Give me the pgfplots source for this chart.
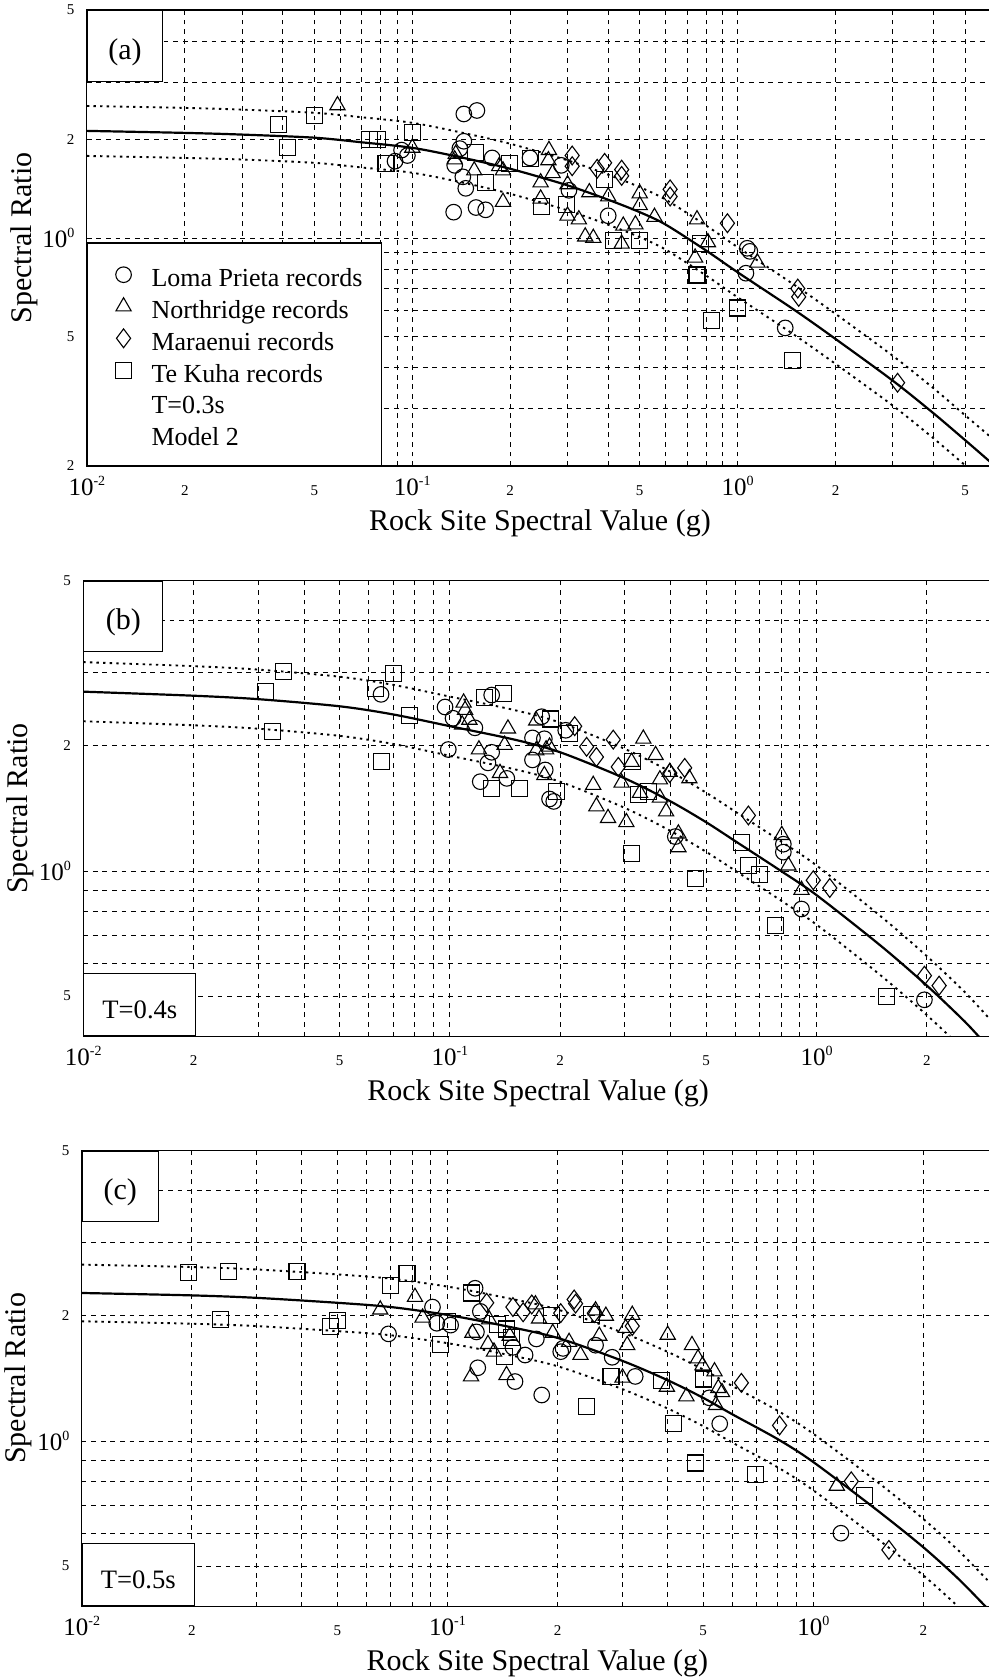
\documentclass[border=0pt]{standalone}
\usepackage{fontspec}
\setmainfont{Liberation Serif}
\usepackage{pgfplots}
\pgfplotsset{compat=1.18}

\newcommand{\pw}[1]{{\fontsize{12.5}{12.5}\selectfont 10\raisebox{5pt}{\fontsize{7}{7}\selectfont #1}}}
\newcommand{\sm}[1]{{\fontsize{7.5}{7.5}\selectfont #1}}

\pgfplotsset{
  myLP/.style={black, only marks, mark=o, mark size=3.9pt, mark options={solid, line width=0.55pt}},
  myNR/.style={black, only marks, mark=triangle, mark size=4.4pt, mark options={solid, line width=0.55pt}},
  myMA/.style={black, only marks, mark=diamond, mark size=4.7pt, mark options={solid, line width=0.55pt}},
  myTK/.style={black, only marks, mark=square, mark size=4pt, mark options={solid, line width=0.55pt}},
  myFit/.style={black, line width=1.1pt, no markers, smooth, forget plot},
  myFitD/.style={black, line width=0.95pt, dash pattern=on 1.2pt off 2.1pt, no markers, smooth, forget plot},
}
\tikzset{tagbox/.style={draw=black, line width=0.6pt, fill=white, inner sep=0pt}}

\begin{document}
\begin{tikzpicture}
\useasboundingbox (0,0) rectangle (494.5pt,-840pt);

% ---------------- panel (a) ----------------
\begin{axis}[at={(43.45pt,-5pt)}, anchor=north west, width=453.05pt, height=228pt,
  xmode=log, ymode=log, scale only axis,
  axis line style={line width=0.6pt},
  grid=both,
  major grid style={black, line width=0.45pt, dash pattern=on 2.4pt off 2.4pt},
  minor grid style={black, line width=0.45pt, dash pattern=on 2.4pt off 2.4pt},
  major tick length=0pt, minor tick length=0pt,
  xticklabel style={anchor=base, inner sep=0pt, yshift=-14.5pt},
  yticklabel style={anchor=east, inner sep=0pt, xshift=-6pt},
  xlabel={Rock Site Spectral Value (g)},
  ylabel={Spectral Ratio},
  every axis x label/.style={at={(axis description cs:0.5,0)}, anchor=base, yshift=-32pt, font=\fontsize{15}{15}\selectfont},
  every axis y label/.style={at={(axis description cs:0,0.5)}, xshift=-31.5pt, anchor=center, rotate=90, font=\fontsize{15}{15}\selectfont},
  xmin=0.01, xmax=6.09, ymin=0.2, ymax=5,
  xtick={0.01,0.02,0.05,0.1,0.2,0.5,1,2,5},
  xticklabels={\pw{-2},\sm{2},\sm{5},\pw{-1},\sm{2},\sm{5},\pw{0},\sm{2},\sm{5}},
  minor xtick={0.03,0.04,0.06,0.07,0.08,0.09,0.3,0.4,0.6,0.7,0.8,0.9,3,4},
  ytick={0.2,0.5,1,2,5}, yticklabels={\sm{2},\sm{5},\pw{0},\sm{2},\sm{5}},
  minor ytick={0.3,0.4,0.6,0.7,0.8,0.9,3,4},
  legend cell align=left,
  legend style={at={(0,0)}, anchor=south west, draw=black, line width=0.6pt, fill=white,
    font=\fontsize{13}{13}\selectfont, inner xsep=9.5pt, inner ysep=7.9pt, row sep=0pt, column sep=10pt,
    nodes={inner sep=0pt, text height=13.9pt, text depth=2pt},
    column 1/.style={nodes={minimum width=17pt}}},
]
\addplot[myFit] coordinates {(0.01,2.13) (0.02,2.10) (0.03,2.075) (0.05,2.03) (0.07,1.965) (0.1,1.89) (0.14,1.77) (0.2,1.63) (0.3,1.45) (0.4,1.31) (0.5,1.20) (0.6,1.10) (0.8,0.915) (1.0,0.785) (1.5,0.60) (2.0,0.49) (3.0,0.365) (4.0,0.29) (5.0,0.24) (6.0,0.205) (6.5,0.191)};
\addplot[myFitD] coordinates {(0.01,2.54) (0.02,2.505) (0.03,2.475) (0.05,2.42) (0.07,2.345) (0.1,2.255) (0.14,2.11) (0.2,1.945) (0.3,1.73) (0.4,1.563) (0.5,1.432) (0.6,1.312) (0.8,1.092) (1.0,0.937) (1.5,0.716) (2.0,0.585) (3.0,0.435) (4.0,0.346) (5.0,0.286) (6.0,0.245) (6.5,0.228)};
\addplot[myFitD] coordinates {(0.01,1.785) (0.02,1.76) (0.03,1.74) (0.05,1.70) (0.07,1.645) (0.1,1.585) (0.14,1.485) (0.2,1.366) (0.3,1.215) (0.4,1.098) (0.5,1.006) (0.6,0.922) (0.8,0.767) (1.0,0.658) (1.5,0.503) (2.0,0.411) (3.0,0.306) (4.0,0.243) (5.0,0.201) (6.0,0.172) (6.5,0.16)};
\addplot[myLP] coordinates {(0.144,2.40) (0.158,2.46) (0.0885,1.72) (0.0927,1.86) (0.0966,1.79) (0.144,1.98) (0.140,1.88) (0.135,1.67) (0.143,1.54) (0.146,1.42) (0.134,1.20) (0.157,1.24) (0.168,1.22) (0.176,1.76) (0.230,1.76) (0.287,1.67) (0.303,1.40) (0.40,1.17) (1.07,0.93) (1.09,0.91) (1.06,0.78) (1.40,0.53)};
\addlegendentry{Loma Prieta records}
\addplot[myNR] coordinates {(0.0589,2.55) (0.1,1.89) (0.136,1.81) (0.135,1.74) (0.155,1.61) (0.185,1.66) (0.19,1.61) (0.19,1.29) (0.263,1.86) (0.262,1.73) (0.27,1.58) (0.248,1.48) (0.248,1.32) (0.30,1.46) (0.30,1.17) (0.325,1.14) (0.34,1.01) (0.36,1.00) (0.35,1.38) (0.40,1.34) (0.445,1.09) (0.44,0.96) (0.485,1.10) (0.50,1.37) (0.50,1.26) (0.555,1.16) (0.75,1.14) (0.81,0.97) (0.74,0.87) (1.15,0.84)};
\addlegendentry{Northridge records}
\addplot[myMA] coordinates {(0.31,1.79) (0.31,1.66) (0.37,1.63) (0.39,1.70) (0.44,1.62) (0.44,1.55) (0.62,1.41) (0.62,1.34) (0.93,1.11) (1.53,0.70) (1.54,0.66) (3.1,0.36)};
\addlegendentry{Maraenui records}
\addplot[myTK] coordinates {(0.0388,2.23) (0.050,2.38) (0.0413,1.90) (0.074,2.00) (0.078,2.00) (0.1,2.10) (0.083,1.69) (0.156,1.83) (0.168,1.48) (0.199,1.69) (0.231,1.75) (0.25,1.25) (0.298,1.27) (0.39,1.51) (0.415,0.98) (0.50,0.98) (0.77,0.96) (0.75,0.77) (0.83,0.56) (1.0,0.61) (1.47,0.42)};
\addlegendentry{Te Kuha records}
\addlegendimage{empty legend}\addlegendentry{T=0.3s}
\addlegendimage{empty legend}\addlegendentry{Model 2}
\node[tagbox, anchor=north west, minimum width=37.5pt, minimum height=35.5pt, text height=16.3pt, text depth=3.3pt, font=\fontsize{15}{15}\selectfont] at (rel axis cs:0,1) {(a)};
\end{axis}

% ---------------- panel (b) ----------------
\begin{axis}[at={(41.65pt,-290.2pt)}, anchor=north west, width=454.85pt, height=228pt,
  xmode=log, ymode=log, scale only axis,
  axis line style={line width=0.6pt},
  grid=both,
  major grid style={black, line width=0.45pt, dash pattern=on 2.4pt off 2.4pt},
  minor grid style={black, line width=0.45pt, dash pattern=on 2.4pt off 2.4pt},
  major tick length=0pt, minor tick length=0pt,
  xticklabel style={anchor=base, inner sep=0pt, yshift=-14.5pt},
  yticklabel style={anchor=east, inner sep=0pt, xshift=-6pt},
  xlabel={Rock Site Spectral Value (g)},
  ylabel={Spectral Ratio},
  every axis x label/.style={at={(axis description cs:0.5,0)}, anchor=base, yshift=-32pt, font=\fontsize{15}{15}\selectfont},
  every axis y label/.style={at={(axis description cs:0,0.5)}, xshift=-31.5pt, anchor=center, rotate=90, font=\fontsize{15}{15}\selectfont},
  xmin=0.01, xmax=3.03, ymin=0.4, ymax=5,
  xtick={0.01,0.02,0.05,0.1,0.2,0.5,1,2},
  xticklabels={\pw{-2},\sm{2},\sm{5},\pw{-1},\sm{2},\sm{5},\pw{0},\sm{2}},
  minor xtick={0.03,0.04,0.06,0.07,0.08,0.09,0.3,0.4,0.6,0.7,0.8,0.9},
  ytick={0.5,1,2,5}, yticklabels={\sm{5},\pw{0},\sm{2},\sm{5}},
  minor ytick={0.6,0.7,0.8,0.9,3,4},
]
\addplot[myFit] coordinates {(0.01,2.70) (0.02,2.64) (0.03,2.59) (0.05,2.49) (0.07,2.38) (0.1,2.23) (0.15,2.07) (0.2,1.93) (0.3,1.67) (0.4,1.47) (0.5,1.31) (0.6,1.18) (0.8,1.00) (1.0,0.875) (1.5,0.66) (2.0,0.53) (2.5,0.44) (2.77,0.40) (3.0,0.37) (3.2,0.35)};
\addplot[myFitD] coordinates {(0.01,3.18) (0.02,3.11) (0.03,3.051) (0.05,2.933) (0.07,2.804) (0.1,2.627) (0.15,2.438) (0.2,2.274) (0.3,1.967) (0.4,1.732) (0.5,1.543) (0.6,1.39) (0.8,1.178) (1.0,1.031) (1.5,0.777) (2.0,0.624) (2.5,0.518) (2.77,0.471) (3.0,0.436) (3.2,0.412)};
\addplot[myFitD] coordinates {(0.01,2.292) (0.02,2.241) (0.03,2.199) (0.05,2.114) (0.07,2.021) (0.1,1.893) (0.15,1.757) (0.2,1.639) (0.3,1.418) (0.4,1.248) (0.5,1.112) (0.6,1.002) (0.8,0.849) (1.0,0.743) (1.5,0.560) (2.0,0.450) (2.5,0.374) (2.77,0.340) (3.0,0.314) (3.2,0.297)};
\addplot[myLP] coordinates {(0.0649,2.66) (0.097,2.48) (0.099,1.96) (0.102,2.33) (0.117,2.21) (0.13,2.65) (0.127,1.82) (0.121,1.64) (0.13,1.93) (0.143,1.67) (0.178,2.35) (0.168,2.09) (0.181,2.08) (0.168,1.85) (0.182,1.75) (0.187,1.49) (0.192,1.47) (0.207,2.18) (0.412,1.21) (0.812,1.16) (0.812,1.11) (0.91,0.81) (1.97,0.49)};
\addplot[myNR] coordinates {(0.109,2.54) (0.11,2.44) (0.108,2.25) (0.113,2.31) (0.12,1.96) (0.144,2.20) (0.141,2.01) (0.137,1.72) (0.172,2.30) (0.172,1.95) (0.183,1.96) (0.187,1.99) (0.181,1.70) (0.246,1.61) (0.251,1.43) (0.270,1.34) (0.303,1.31) (0.337,2.08) (0.364,1.90) (0.313,1.83) (0.294,1.63) (0.33,1.54) (0.374,1.50) (0.389,1.39) (0.398,1.73) (0.374,1.66) (0.45,1.67) (0.42,1.23) (0.42,1.14) (0.804,1.22) (0.838,1.03) (0.91,0.90)};
\addplot[myMA] coordinates {(0.219,2.23) (0.236,1.99) (0.251,1.88) (0.279,2.07) (0.288,1.78) (0.398,1.72) (0.437,1.77) (0.652,1.36) (0.98,0.95) (1.087,0.91) (1.97,0.56) (2.16,0.53)};
\addplot[myTK] coordinates {(0.0351,3.02) (0.0314,2.70) (0.0328,2.16) (0.0628,2.75) (0.070,2.98) (0.0778,2.37) (0.0652,1.83) (0.1245,2.61) (0.14,2.67) (0.130,1.58) (0.155,1.58) (0.188,2.32) (0.212,2.14) (0.195,1.55) (0.315,1.83) (0.327,1.53) (0.349,1.55) (0.313,1.10) (0.468,0.96) (0.625,1.17) (0.653,1.03) (0.699,0.98) (0.774,0.74) (1.55,0.50)};
\node[tagbox, anchor=north west, minimum width=39.5pt, minimum height=35.4pt, text height=16.3pt, text depth=3.3pt, font=\fontsize{15}{15}\selectfont] at (rel axis cs:0,1) {(b)};
\node[tagbox, anchor=south west, minimum width=56pt, minimum height=31.2pt, text height=13.8pt, text depth=0pt, font=\fontsize{13.3}{13.3}\selectfont] at (rel axis cs:0,0) {T=0.4s};
\end{axis}

% ---------------- panel (c) ----------------
\begin{axis}[at={(40.85pt,-575.2pt)}, anchor=north west, width=455.65pt, height=228pt,
  xmode=log, ymode=log, scale only axis,
  axis line style={line width=0.6pt},
  grid=both,
  major grid style={black, line width=0.45pt, dash pattern=on 2.4pt off 2.4pt},
  minor grid style={black, line width=0.45pt, dash pattern=on 2.4pt off 2.4pt},
  major tick length=0pt, minor tick length=0pt,
  xticklabel style={anchor=base, inner sep=0pt, yshift=-14.5pt},
  yticklabel style={anchor=east, inner sep=0pt, xshift=-6pt},
  xlabel={Rock Site Spectral Value (g)},
  ylabel={Spectral Ratio},
  every axis x label/.style={at={(axis description cs:0.5,0)}, anchor=base, yshift=-32pt, font=\fontsize{15}{15}\selectfont},
  every axis y label/.style={at={(axis description cs:0,0.5)}, xshift=-31.5pt, anchor=center, rotate=90, font=\fontsize{15}{15}\selectfont},
  xmin=0.01, xmax=3.1, ymin=0.4, ymax=5,
  xtick={0.01,0.02,0.05,0.1,0.2,0.5,1,2},
  xticklabels={\pw{-2},\sm{2},\sm{5},\pw{-1},\sm{2},\sm{5},\pw{0},\sm{2}},
  minor xtick={0.03,0.04,0.06,0.07,0.08,0.09,0.3,0.4,0.6,0.7,0.8,0.9},
  ytick={0.5,1,2,5}, yticklabels={\sm{5},\pw{0},\sm{2},\sm{5}},
  minor ytick={0.6,0.7,0.8,0.9,3,4},
]
\addplot[myFit] coordinates {(0.01,2.27) (0.02,2.24) (0.03,2.21) (0.05,2.15) (0.07,2.10) (0.1,2.01) (0.14,1.90) (0.2,1.77) (0.3,1.56) (0.4,1.40) (0.5,1.27) (0.6,1.16) (0.8,1.01) (1.0,0.89) (1.5,0.68) (2.0,0.555) (2.5,0.465) (3.0,0.395) (3.3,0.365)};
\addplot[myFitD] coordinates {(0.01,2.656) (0.02,2.621) (0.03,2.586) (0.05,2.516) (0.07,2.457) (0.1,2.352) (0.14,2.223) (0.2,2.071) (0.3,1.825) (0.4,1.638) (0.5,1.486) (0.6,1.357) (0.8,1.182) (1.0,1.041) (1.5,0.796) (2.0,0.649) (2.5,0.544) (3.0,0.462) (3.3,0.427)};
\addplot[myFitD] coordinates {(0.01,1.941) (0.02,1.915) (0.03,1.89) (0.05,1.838) (0.07,1.796) (0.1,1.719) (0.14,1.625) (0.2,1.513) (0.3,1.334) (0.4,1.197) (0.5,1.086) (0.6,0.992) (0.8,0.864) (1.0,0.761) (1.5,0.581) (2.0,0.475) (2.5,0.398) (3.0,0.338) (3.3,0.312)};
\addplot[myLP] coordinates {(0.069,1.81) (0.091,2.10) (0.0935,1.92) (0.102,1.90) (0.119,2.33) (0.123,2.05) (0.120,1.83) (0.121,1.50) (0.151,1.68) (0.153,1.39) (0.163,1.61) (0.175,1.76) (0.181,1.29) (0.207,1.67) (0.204,1.64) (0.254,1.70) (0.282,1.59) (0.326,1.43) (0.52,1.27) (0.555,1.10) (1.19,0.60)};
\addplot[myNR] coordinates {(0.0655,2.07) (0.0815,2.22) (0.0855,1.98) (0.117,1.82) (0.116,1.43) (0.13,1.96) (0.129,1.71) (0.134,1.64) (0.145,1.44) (0.148,1.79) (0.174,2.13) (0.178,1.97) (0.194,1.82) (0.215,1.73) (0.231,1.61) (0.254,2.06) (0.271,2.00) (0.26,1.79) (0.301,1.42) (0.307,1.87) (0.32,2.01) (0.31,1.70) (0.40,1.80) (0.398,1.35) (0.45,1.28) (0.466,1.70) (0.484,1.58) (0.537,1.47) (0.55,1.34) (0.542,1.22) (0.563,1.31) (0.498,1.52) (1.16,0.78)};
\addplot[myMA] coordinates {(0.128,2.15) (0.151,2.10) (0.161,2.04) (0.170,2.13) (0.204,2.03) (0.222,2.19) (0.224,2.14) (0.252,2.03) (0.32,1.89) (0.636,1.38) (0.809,1.09) (1.27,0.80) (1.61,0.547)};
\addplot[myTK] coordinates {(0.0196,2.54) (0.0252,2.56) (0.0388,2.56) (0.024,1.96) (0.0479,1.89) (0.050,1.95) (0.0698,2.37) (0.0775,2.53) (0.0955,1.71) (0.1,1.94) (0.116,2.27) (0.137,1.91) (0.145,1.86) (0.150,1.77) (0.143,1.60) (0.192,2.00) (0.248,2.02) (0.28,1.43) (0.24,1.21) (0.385,1.40) (0.50,1.41) (0.415,1.10) (0.476,0.885) (0.695,0.83) (1.38,0.74)};
\node[tagbox, anchor=north west, minimum width=38pt, minimum height=35.4pt, text height=16.3pt, text depth=3.3pt, font=\fontsize{15}{15}\selectfont] at (rel axis cs:0,1) {(c)};
\node[tagbox, anchor=south west, minimum width=56pt, minimum height=31pt, text height=13.8pt, text depth=0pt, font=\fontsize{13.3}{13.3}\selectfont] at (rel axis cs:0,0) {T=0.5s};
\end{axis}
\end{tikzpicture}
\end{document}
